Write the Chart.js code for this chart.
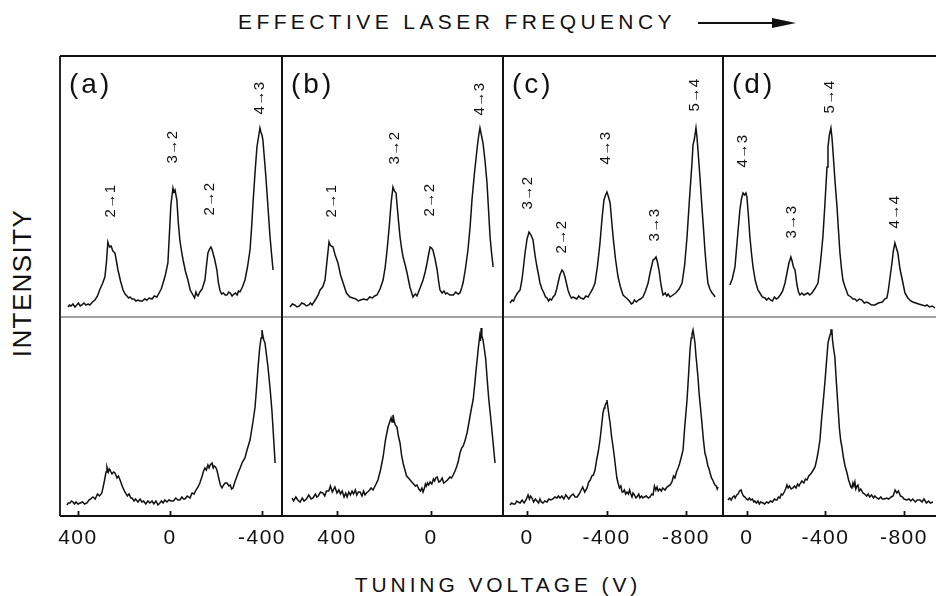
<!DOCTYPE html>
<html>
<head>
<meta charset="utf-8">
<script src="https://cdn.jsdelivr.net/npm/chart.js@4.4.1/dist/chart.umd.min.js"></script>
<style>
  body { margin: 0; background: #fff; width: 936px; height: 596px; overflow: hidden; position: relative;
         font-family: "Liberation Sans", Arial, sans-serif; color: #111; }
  canvas { position: absolute; }
  .txt { position: absolute; white-space: nowrap; line-height: 24px; }
</style>
</head>
<body>
<div class="txt" style="left:238px;top:10px;font-size:21px;letter-spacing:4.4px">EFFECTIVE LASER FREQUENCY</div>
<div style="position:absolute;left:698px;top:22px;width:76px;height:2px;background:#111"></div>
<div style="position:absolute;left:772px;top:18px;width:0;height:0;border-left:24px solid #111;border-top:5px solid transparent;border-bottom:5px solid transparent"></div>
<div class="txt" style="left:-78px;top:271px;width:200px;text-align:center;font-size:26px;letter-spacing:1.4px;transform:rotate(-90deg)">INTENSITY</div>
<div class="txt" style="left:298px;top:573px;width:400px;text-align:center;font-size:21px;letter-spacing:3.9px">TUNING VOLTAGE (V)</div>

<script>
// tuning voltage ticks
var ticksAB = [400, 0, -400];
var ticksCD = [0, -400, -800];

// upper spectra: [voltage, intensity]
var aTop = [[443,10],[437,12],[430,11],[422,13],[413,10],[405,12],[398,14],[390,11],[383,12],[374,14],[365,12],[356,13],[348,12],[337,15],[326,17],[315,21],[304,28],[294,33],[283,40],[276,55],[270,75],[266,72],[262,70],[256,71],[248,66],[239,64],[232,55],[226,47],[215,36],[204,27],[195,23],[187,21],[180,19],[174,20],[165,18],[156,18],[148,16],[139,17],[130,16],[120,16],[110,18],[100,17],[90,19],[78,18],[68,21],[57,20],[45,25],[38,28],[30,34],[20,42],[9,54],[2,85],[-4,112],[-13,129],[-17,125],[-22,127],[-30,117],[-36,95],[-43,77],[-50,66],[-57,57],[-67,46],[-78,37],[-88,27],[-100,22],[-107,19],[-113,25],[-118,22],[-122,21],[-130,25],[-140,28],[-152,37],[-158,50],[-165,64],[-172,68],[-178,70],[-182,68],[-187,64],[-195,57],[-204,47],[-210,35],[-217,27],[-224,23],[-232,24],[-240,22],[-248,22],[-255,25],[-262,24],[-270,21],[-278,23],[-285,24],[-292,22],[-298,26],[-304,25],[-315,30],[-326,37],[-337,50],[-348,67],[-355,90],[-361,114],[-370,145],[-378,170],[-385,180],[-391,189],[-395,185],[-400,182],[-404,177],[-410,160],[-417,140],[-426,110],[-435,80],[-442,62],[-448,47]];
var bTop = [[600,10],[590,13],[580,12],[570,10],[560,11],[550,14],[540,13],[530,11],[520,12],[513,14],[506,12],[490,18],[480,22],[472,27],[461,30],[451,37],[443,55],[434,75],[429,72],[425,71],[417,70],[408,62],[396,54],[385,42],[374,34],[360,24],[345,20],[333,19],[320,18],[310,16],[300,17],[287,18],[272,17],[261,20],[250,19],[240,21],[230,22],[217,28],[204,37],[195,50],[187,67],[178,90],[170,114],[162,130],[156,126],[149,124],[140,100],[132,80],[125,68],[119,60],[110,52],[102,44],[90,30],[77,20],[71,22],[66,23],[60,21],[55,24],[45,30],[34,37],[25,45],[17,54],[10,63],[4,70],[-2,69],[-8,67],[-17,58],[-26,47],[-32,36],[-38,27],[-47,24],[-55,26],[-62,23],[-68,24],[-80,22],[-95,22],[-105,25],[-115,23],[-123,24],[-130,29],[-136,34],[-146,48],[-157,67],[-166,90],[-174,117],[-185,145],[-192,160],[-196,169],[-203,182],[-208,189],[-214,182],[-221,174],[-230,155],[-238,134],[-245,105],[-251,80],[-257,65],[-264,50]];
var cTop = [[86,14],[75,17],[68,16],[60,20],[48,24],[35,27],[25,38],[18,50],[10,64],[0,78],[-10,85],[-20,82],[-30,77],[-40,62],[-50,50],[-58,42],[-65,34],[-75,28],[-85,24],[-93,20],[-101,19],[-108,16],[-115,18],[-123,17],[-131,20],[-140,22],[-148,27],[-156,34],[-165,42],[-176,47],[-183,45],[-191,40],[-199,33],[-206,27],[-215,22],[-223,19],[-232,20],[-241,19],[-250,18],[-260,21],[-270,19],[-285,18],[-296,21],[-307,20],[-318,24],[-330,28],[-342,34],[-355,52],[-367,74],[-377,98],[-387,117],[-395,122],[-402,125],[-410,120],[-418,114],[-425,98],[-433,80],[-445,58],[-458,40],[-470,30],[-483,22],[-494,20],[-505,18],[-515,16],[-525,13],[-533,14],[-540,17],[-550,15],[-560,17],[-570,18],[-583,20],[-596,26],[-609,34],[-620,45],[-634,57],[-642,58],[-649,60],[-656,55],[-664,47],[-674,32],[-684,22],[-695,24],[-703,21],[-710,23],[-720,20],[-734,22],[-748,24],[-765,28],[-780,34],[-793,52],[-805,80],[-818,120],[-830,154],[-835,172],[-842,178],[-850,189],[-855,180],[-860,167],[-870,140],[-880,110],[-888,88],[-895,67],[-903,48],[-910,34],[-920,28],[-931,24],[-940,22],[-946,20]];
var dTop = [[87,32],[75,38],[61,50],[48,80],[36,107],[28,118],[20,124],[12,122],[5,124],[0,120],[-8,100],[-15,80],[-23,64],[-31,50],[-43,36],[-56,27],[-66,24],[-78,20],[-92,19],[-100,17],[-110,19],[-120,17],[-130,16],[-140,20],[-150,18],[-158,19],[-170,22],[-182,26],[-194,34],[-205,45],[-214,54],[-224,60],[-230,56],[-237,50],[-245,47],[-255,32],[-263,25],[-270,22],[-280,24],[-290,22],[-300,23],[-310,24],[-320,22],[-331,24],[-345,28],[-362,34],[-375,55],[-387,80],[-398,115],[-408,150],[-413,170],[-420,182],[-428,189],[-433,180],[-438,167],[-448,138],[-459,110],[-467,85],[-474,64],[-482,48],[-489,37],[-500,30],[-515,22],[-530,20],[-540,18],[-550,18],[-560,16],[-573,18],[-586,17],[-598,14],[-610,15],[-620,14],[-635,12],[-652,12],[-670,14],[-690,15],[-702,18],[-713,19],[-720,26],[-728,38],[-739,54],[-746,66],[-754,74],[-760,70],[-769,64],[-780,48],[-795,34],[-805,24],[-820,19],[-835,16],[-845,15],[-860,14],[-875,13],[-892,12],[-908,11],[-918,12],[-930,10],[-945,11],[-958,9]];

// lower spectra: [voltage, intensity]
var aBot = [[448,11],[442,13],[435,13],[428,15],[422,14],[415,12],[408,14],[400,12],[390,13],[380,14],[371,12],[361,13],[352,16],[345,17],[335,19],[325,17],[315,22],[306,20],[296,23],[285,35],[278,44],[274,49],[268,44],[264,47],[261,46],[252,42],[245,44],[239,43],[230,38],[224,40],[217,36],[206,29],[196,24],[185,20],[178,22],[170,18],[165,18],[156,15],[150,17],[139,14],[130,17],[122,14],[115,15],[105,12],[96,15],[87,13],[78,15],[70,12],[61,15],[52,11],[44,13],[37,15],[30,13],[22,16],[13,14],[5,16],[-5,15],[-15,15],[-25,18],[-35,16],[-43,16],[-52,19],[-59,17],[-65,17],[-75,20],[-87,18],[-96,23],[-105,22],[-113,26],[-122,29],[-130,33],[-140,40],[-146,45],[-152,48],[-158,46],[-165,51],[-170,48],[-175,51],[-183,53],[-188,48],[-192,50],[-198,49],[-204,46],[-212,38],[-219,31],[-226,28],[-233,31],[-240,33],[-248,33],[-256,30],[-262,31],[-268,27],[-274,28],[-282,34],[-290,39],[-296,43],[-305,48],[-315,54],[-326,58],[-335,66],[-348,76],[-360,93],[-370,109],[-377,130],[-383,149],[-390,168],[-396,178],[-400,186],[-404,180],[-408,176],[-413,173],[-419,162],[-426,149],[-435,128],[-443,106],[-450,80],[-457,53]];
var bBot = [[591,18],[585,15],[575,19],[567,16],[557,14],[548,18],[540,15],[530,17],[520,21],[510,17],[502,18],[492,22],[486,19],[480,20],[470,24],[460,23],[452,20],[445,25],[435,25],[428,30],[420,24],[409,29],[400,23],[392,26],[385,22],[378,25],[370,19],[363,23],[357,19],[350,24],[343,21],[336,25],[330,22],[322,26],[316,21],[309,24],[302,24],[294,20],[287,25],[281,21],[275,23],[265,25],[255,28],[247,26],[236,31],[226,36],[215,46],[204,59],[194,76],[183,89],[176,94],[170,98],[166,94],[162,101],[157,95],[152,91],[145,89],[139,80],[132,73],[125,60],[118,52],[111,46],[104,40],[96,38],[89,36],[82,34],[74,32],[67,30],[60,31],[52,27],[45,25],[39,28],[34,24],[28,28],[24,32],[20,30],[15,33],[10,31],[4,34],[-3,32],[-10,37],[-15,35],[-20,38],[-26,39],[-33,34],[-40,35],[-47,38],[-54,33],[-60,34],[-70,36],[-80,39],[-87,38],[-94,41],[-102,45],[-110,50],[-116,55],[-123,63],[-130,68],[-137,70],[-145,76],[-153,83],[-160,92],[-166,100],[-172,108],[-179,116],[-186,132],[-191,145],[-196,156],[-201,168],[-207,180],[-210,175],[-213,188],[-216,180],[-221,176],[-226,168],[-232,158],[-238,139],[-245,118],[-252,102],[-260,83],[-266,68],[-272,53]];
var cBot = [[86,11],[78,13],[70,12],[60,12],[52,15],[45,14],[35,13],[25,16],[15,13],[5,16],[-5,21],[-12,17],[-18,20],[-25,18],[-33,14],[-42,17],[-50,15],[-58,13],[-65,17],[-72,14],[-80,13],[-90,15],[-100,14],[-110,17],[-120,16],[-130,17],[-140,19],[-150,18],[-158,20],[-166,18],[-175,20],[-185,17],[-195,21],[-203,19],[-210,17],[-220,20],[-232,22],[-242,19],[-252,19],[-262,22],[-270,25],[-280,29],[-290,24],[-302,28],[-310,34],[-318,36],[-326,40],[-334,41],[-342,46],[-350,56],[-358,64],[-367,76],[-375,90],[-382,103],[-388,108],[-392,110],[-398,113],[-402,116],[-406,110],[-410,104],[-414,98],[-418,93],[-425,80],[-433,69],[-440,58],[-447,46],[-452,38],[-458,33],[-465,28],[-472,30],[-478,24],[-483,24],[-490,26],[-496,22],[-503,24],[-510,22],[-516,26],[-522,22],[-528,19],[-533,23],[-540,21],[-548,18],[-556,20],[-562,22],[-568,18],[-576,20],[-583,18],[-590,19],[-600,20],[-610,18],[-619,19],[-627,22],[-634,21],[-641,30],[-648,26],[-654,29],[-660,25],[-668,27],[-676,25],[-683,28],[-694,26],[-704,29],[-712,30],[-720,31],[-729,34],[-737,40],[-744,38],[-752,44],[-760,48],[-767,52],[-775,58],[-785,66],[-793,88],[-799,102],[-805,116],[-813,142],[-820,166],[-826,178],[-830,182],[-835,186],[-840,180],[-845,173],[-850,160],[-855,150],[-860,139],[-866,122],[-872,110],[-880,93],[-887,77],[-895,63],[-902,58],[-910,50],[-916,47],[-921,43],[-928,38],[-935,36],[-940,33],[-946,31],[-952,30],[-957,27],[-961,29]];
var dBot = [[97,16],[88,18],[80,16],[72,19],[65,20],[60,18],[52,21],[45,22],[38,25],[30,26],[25,23],[18,20],[10,19],[3,17],[-5,16],[-12,18],[-20,16],[-28,17],[-35,14],[-40,15],[-48,13],[-56,15],[-63,12],[-70,14],[-82,13],[-90,12],[-100,14],[-110,13],[-120,15],[-130,14],[-140,17],[-148,16],[-153,16],[-160,19],[-168,18],[-175,22],[-182,21],[-190,24],[-197,27],[-204,31],[-210,28],[-217,30],[-225,27],[-234,28],[-242,30],[-250,28],[-258,32],[-265,30],[-270,32],[-280,35],[-290,33],[-298,37],[-306,36],[-315,40],[-325,42],[-335,45],[-347,49],[-355,56],[-362,63],[-372,76],[-380,96],[-388,113],[-397,133],[-405,153],[-413,173],[-419,178],[-425,182],[-428,186],[-433,186],[-436,176],[-441,168],[-448,159],[-456,133],[-464,109],[-471,88],[-478,75],[-484,69],[-492,58],[-500,50],[-510,43],[-518,36],[-525,32],[-530,29],[-535,28],[-540,33],[-545,30],[-550,34],[-555,27],[-561,30],[-566,31],[-572,25],[-580,27],[-591,23],[-600,22],[-610,20],[-618,22],[-625,19],[-635,21],[-645,18],[-652,20],[-662,18],[-672,17],[-682,19],[-690,17],[-700,17],[-712,18],[-722,17],[-735,19],[-745,20],[-755,26],[-764,23],[-772,25],[-782,20],[-793,19],[-800,17],[-815,16],[-826,17],[-835,15],[-845,17],[-858,14],[-868,16],[-882,16],[-892,14],[-902,17],[-915,13],[-925,15],[-935,13],[-948,14]];

// transition labels: [text, voltage, intensity]
var aLabels = [['2→1',256,116],['3→2',-13,170],['2→2',-174,118],['4→3',-391,219]];
var bLabels = [['2→1',421,116],['3→2',153,169],['2→2',4,117],['4→3',-208,218]];
var cLabels = [['3→2',-5,124],['2→2',-176,80],['4→3',-397,169],['3→3',-644,92],['5→4',-845,222]];
var dLabels = [['4→3',20,166],['3→3',-229,95],['5→4',-423,220],['4→4',-754,105]];

var panelNames = ['(a)', '(b)', '(c)', '(d)'];

Chart.defaults.font.family = '"Liberation Sans", Arial, sans-serif';
Chart.defaults.color = '#111';

var P = 4;
var TOP = 56, MID = 317, BOT = 516;

// frame around each sub panel, inward tick marks; wider spacing for the tick numbers
var framePlugin = {
  id: 'frame',
  beforeDraw: function (chart) { chart.ctx.letterSpacing = '1.5px'; },
  afterDraw: function (chart, args, o) {
    var ctx = chart.ctx, a = chart.chartArea, xs = chart.scales.x;
    ctx.letterSpacing = '0px';
    ctx.save();
    ctx.strokeStyle = '#111';
    ctx.lineWidth = 1.8;
    ctx.beginPath();
    ctx.moveTo(a.left, a.bottom); ctx.lineTo(a.left, a.top);
    if (o.top) { ctx.moveTo(a.left, a.top); ctx.lineTo(a.right, a.top); }
    ctx.moveTo(a.right, a.top); ctx.lineTo(a.right, a.bottom);
    if (!o.top) {
      ctx.moveTo(a.left, a.bottom); ctx.lineTo(a.right, a.bottom);
      xs.ticks.forEach(function (t) {
        var px = Math.round(xs.getPixelForValue(t.value)) + 0.5;
        ctx.moveTo(px, a.bottom); ctx.lineTo(px, a.bottom - 5);
      });
    }
    ctx.stroke();
    if (o.top) {
      ctx.lineWidth = 1;
      ctx.strokeStyle = '#444';
      ctx.beginPath();
      ctx.moveTo(a.left, a.bottom); ctx.lineTo(a.right, a.bottom);
      ctx.stroke();
    }
    ctx.restore();
  }
};

// rotated transition labels and panel letters
var labelPlugin = {
  id: 'peaks',
  afterDatasetsDraw: function (chart, args, o) {
    var ctx = chart.ctx, x = chart.scales.x, y = chart.scales.y, a = chart.chartArea;
    ctx.save();
    ctx.fillStyle = '#111';
    if (o.name) {
      ctx.font = '28px "Liberation Sans", Arial, sans-serif';
      ctx.letterSpacing = '3px';
      ctx.textAlign = 'left';
      ctx.textBaseline = 'alphabetic';
      ctx.fillText(o.name, a.left + 9, a.top + 37);
    }
    ctx.letterSpacing = '0.5px';
    ctx.font = '15px "Liberation Sans", "DejaVu Sans", sans-serif';
    ctx.textAlign = 'center';
    ctx.textBaseline = 'middle';
    (o.items || []).forEach(function (it) {
      ctx.save();
      ctx.translate(x.getPixelForValue(it[1]), y.getPixelForValue(it[2]));
      ctx.rotate(-Math.PI / 2);
      ctx.fillText(it[0], 0, 0);
      ctx.restore();
    });
    ctx.restore();
  }
};

var panels = [
  { left: 60,  right: 282, min: -487,  max: 478, ticks: ticksAB, top: aTop, bot: aBot, labels: aLabels },
  { left: 282, right: 503, min: -306,  max: 634, ticks: ticksAB, top: bTop, bot: bBot, labels: bLabels },
  { left: 503, right: 723, min: -986,  max: 121, ticks: ticksCD, top: cTop, bot: cBot, labels: cLabels },
  { left: 723, right: 963, min: -1101, max: 122, ticks: ticksCD, top: dTop, bot: dBot, labels: dLabels }
];

function makeChart(p, isTop, name) {
  var c = document.createElement('canvas');
  var plotH = isTop ? MID - TOP : BOT - MID;
  var axisH = isTop ? 0 : 30;
  c.width = p.right - p.left + 2 * P;
  c.height = plotH + axisH + 2 * P;
  c.style.left = (p.left - P) + 'px';
  c.style.top = ((isTop ? TOP : MID) - P) + 'px';
  document.body.appendChild(c);

  var pts = isTop ? p.top : p.bot;
  var shown = p.ticks.filter(function (v) { return v >= p.min && v <= p.max; });
  new Chart(c, {
    type: 'line',
    data: {
      datasets: [{
        data: pts.map(function (d) { return { x: d[0], y: d[1] }; }),
        borderColor: '#111',
        borderWidth: 1.5,
        pointRadius: 0,
        tension: 0,
        fill: false
      }]
    },
    options: {
      responsive: false,
      animation: false,
      devicePixelRatio: 1,
      layout: { padding: P },
      plugins: {
        legend: { display: false },
        tooltip: { enabled: false },
        frame: { top: isTop },
        peaks: { items: isTop ? p.labels : [], name: isTop ? name : null }
      },
      scales: {
        x: {
          type: 'linear',
          display: !isTop,
          min: p.min,
          max: p.max,
          reverse: true,
          afterBuildTicks: function (s) { s.ticks = shown.map(function (v) { return { value: v }; }); },
          afterFit: function (s) { s.height = axisH; s.paddingLeft = 0; s.paddingRight = 0; },
          grid: { display: false, drawTicks: false },
          border: { display: false },
          ticks: { color: '#111', padding: 10, maxRotation: 0, autoSkip: false, font: { size: 21 } }
        },
        y: { display: false, min: 0, max: plotH }
      }
    },
    plugins: [framePlugin, labelPlugin]
  });
}

panels.forEach(function (p, i) {
  makeChart(p, true, panelNames[i]);
  makeChart(p, false, null);
});
</script>
</body>
</html>
